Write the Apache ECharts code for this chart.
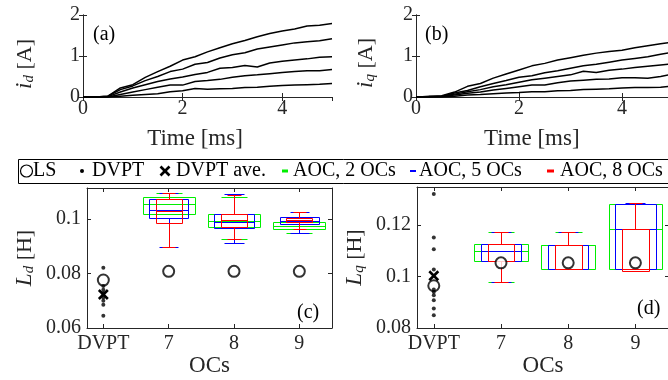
<!DOCTYPE html>
<html><head><meta charset="utf-8">
<script src="https://cdn.jsdelivr.net/npm/echarts@6/dist/echarts.min.js"></script>
<style>html,body{margin:0;padding:0;background:#fff}#c{width:668px;height:380px}</style>
</head><body><div id="c"></div>
<script>
// ---------- DATA ----------
const time = [0,0.25,0.5,0.75,1,1.25,1.5,1.75,2,2.25,2.5,2.75,3,3.25,3.5,3.75,4,4.25,4.5,4.75,5];
const id1 = [0,0,0.02,0.22,0.3,0.48,0.62,0.75,0.9,0.98,1.1,1.2,1.3,1.38,1.47,1.55,1.61,1.66,1.73,1.75,1.79];
const id2 = [0,0,0.02,0.18,0.27,0.4,0.5,0.62,0.68,0.8,0.84,0.95,1.03,1.08,1.17,1.22,1.27,1.32,1.35,1.37,1.42];
const id3 = [0,0,0.01,0.12,0.22,0.3,0.38,0.44,0.49,0.55,0.6,0.7,0.72,0.77,0.73,0.83,0.87,0.9,0.93,0.97,0.98];
const id4 = [0,0,0,0.06,0.12,0.18,0.24,0.29,0.29,0.38,0.4,0.43,0.48,0.52,0.54,0.57,0.6,0.62,0.64,0.64,0.67];
const id5 = [0,0,0,0.02,0.04,0.06,0.08,0.13,0.15,0.21,0.19,0.2,0.21,0.23,0.24,0.26,0.28,0.29,0.3,0.31,0.33];
const iq1 = [0,0.01,0.03,0.12,0.26,0.33,0.46,0.56,0.66,0.76,0.82,0.9,0.96,1.02,1.07,1.11,1.14,1.2,1.25,1.3,1.34];
const iq2 = [0,0.01,0.02,0.1,0.16,0.25,0.33,0.4,0.48,0.52,0.59,0.64,0.7,0.76,0.8,0.85,0.9,0.94,0.98,1.04,1.1];
const iq3 = [0,0.01,0.02,0.07,0.13,0.18,0.25,0.3,0.36,0.42,0.46,0.5,0.54,0.63,0.6,0.65,0.68,0.72,0.75,0.78,0.81];
const iq4 = [0,0,0.01,0.05,0.09,0.12,0.17,0.21,0.25,0.29,0.29,0.35,0.39,0.41,0.43,0.44,0.47,0.47,0.46,0.5,0.56];
const iq5 = [0,0,0,0.02,0.05,0.06,0.08,0.1,0.11,0.13,0.13,0.15,0.16,0.18,0.19,0.2,0.22,0.23,0.23,0.24,0.27];

const ocCategories = ['DVPT','7','8','9'];
const ocPositions = [1,2,3,4];
// boxes per OC (7, 8, 9): [lower whisker, q1, median, q3, upper whisker]
const ldAoc2 = [[0.1018,0.1018,0.1056,0.1079,0.1097],[0.0927,0.0970,0.0993,0.1018,0.1080],[0.0950,0.0963,0.0976,0.0990,0.0990]];
const ldAoc5 = [[0.0898,0.1003,0.1032,0.1074,0.1097],[0.0913,0.0966,0.0988,0.1017,0.1092],[0.0950,0.0982,0.0993,0.1006,0.1025]];
const ldAoc8 = [[0.0898,0.0984,0.1030,0.1074,0.1097],[0.0927,0.0970,0.0996,0.1017,0.1088],[0.0963,0.0990,0.0996,0.1003,0.1025]];
const lqAoc2 = [[0.0979,0.1059,0.1098,0.1128,0.1172],[0.1031,0.1031,0.1124,0.1124,0.1173],[0.1028,0.1028,0.1183,0.1283,0.1283]];
const lqAoc5 = [[0.0979,0.1059,0.1098,0.1128,0.1172],[0.1031,0.1031,0.1124,0.1124,0.1173],[0.1028,0.1028,0.1183,0.1281,0.1286]];
const lqAoc8 = [[0.0979,0.1059,0.1128,0.1128,0.1172],[0.1031,0.1031,0.1124,0.1124,0.1173],[0.1021,0.1021,0.1028,0.1183,0.1286]];
const ldLS = [0.0776,0.0808,0.0808,0.0808];
const lqLS = [0.0964,0.1053,0.1053,0.1053];
const ldDVPT = [0.0821,0.0754,0.0740,0.0728,0.0712,0.0700,0.0685,0.0645];
const lqDVPT = [0.1320,0.1151,0.1106,0.1027,0.0950,0.0940,0.0927,0.0908,0.0876,0.0850];
const ldDVPTave = 0.0723;
const lqDVPTave = 0.1003;
const legendLabels = ['LS','DVPT','DVPT ave.','AOC, 2 OCs','AOC, 5 OCs','AOC, 8 OCs'];
const panelLabels = ['(a)','(b)','(c)','(d)'];

// ---------- STYLE ----------
const FONT = '"Liberation Serif","Times New Roman",serif';
const AX = '#262626';
const GREEN = '#00ee00', BLUE = '#0000ff', RED = '#ff0000';

const grids = [
  {left:83, top:15, width:249, height:82},
  {left:416, top:15, width:257.5, height:82},
  {left:87, top:188, width:245, height:140},
  {left:417, top:187, width:252, height:141}
].map(g => Object.assign({containLabel:false, outerBoundsMode:'none'}, g));

const tickStyle = {inside:true, length:4, lineStyle:{color:AX, width:1}};
const lineStyleAx = {show:true, lineStyle:{color:AX, width:1}};
const lblStyle = {color:AX, fontFamily:FONT, fontSize:20};

function timeX(gi, nameShift) {
  return {type:'value', gridIndex:gi, min:0, max:5, interval:2,
    axisLine:lineStyleAx, axisTick:tickStyle, splitLine:{show:false},
    axisLabel:Object.assign({margin:2, showMaxLabel:false}, lblStyle),
    name:'Time [ms]', nameLocation:'middle', nameGap:30,
    nameTextStyle:{color:AX, fontFamily:FONT, fontSize:23, padding:[0,nameShift,0,0]}};
}
function ocX(gi) {
  return {type:'value', gridIndex:gi, min:0.75, max:4.5,
    axisLine:lineStyleAx, splitLine:{show:false},
    axisTick:Object.assign({customValues:ocPositions}, tickStyle),
    axisLabel:Object.assign({margin:6, customValues:ocPositions,
      formatter: v => ocCategories[Math.round(v)-1] || ''}, lblStyle),
    name:'OCs', nameLocation:'middle', nameGap:24,
    nameTextStyle:{color:AX, fontFamily:FONT, fontSize:23}};
}
function topX(gi, custom) {
  const a = {type:'value', gridIndex:gi, position:'top', axisLine:lineStyleAx,
    axisTick:Object.assign({}, tickStyle), axisLabel:{show:false}, splitLine:{show:false}};
  if (custom) { a.min = 0.75; a.max = 4.5; a.axisTick.customValues = ocPositions; a.axisLabel.customValues = ocPositions; }
  else { a.min = 0; a.max = 5; a.interval = 2; }
  return a;
}
function leftY(gi, min, max, interval, sym, sub, unit, gap, shift, margin) {
  return {type:'value', gridIndex:gi, min, max, interval,
    axisLine:lineStyleAx, axisTick:tickStyle, splitLine:{show:false},
    axisLabel:Object.assign({margin:margin, showMaxLabel: max % interval === 0}, lblStyle),
    name:'{m|' + sym + '}{s|' + sub + '} ' + unit,
    nameLocation:'middle', nameGap:gap, nameRotate:90,
    nameTextStyle:{color:AX, fontFamily:FONT, fontSize:22, padding:[0,shift,0,0],
      rich:{m:{fontStyle:'italic', fontFamily:FONT, fontSize:23, color:AX},
            s:{fontStyle:'italic', fontFamily:FONT, fontSize:15, color:AX, padding:[9,0,0,0]}}}};
}
function rightY(gi, min, max, interval) {
  return {type:'value', gridIndex:gi, position:'right', min, max, interval,
    axisLine:lineStyleAx, axisTick:tickStyle, axisLabel:{show:false}, splitLine:{show:false}};
}

const ldMax = 0.06 + 140/2725;
const lqMax = 0.08 + 141/2575;

const xAxis = [timeX(0,25), timeX(1,26), ocX(2), ocX(3), topX(0,false), topX(1,false), topX(2,true), topX(3,true)];
const yAxis = [
  leftY(0, 0, 2, 1, 'i', 'd', '[A]', 46, 16, 3),
  leftY(1, 0, 2, 1, 'i', 'q', '[A]', 38, 14, 3),
  leftY(2, 0.06, ldMax, 0.02, 'L', 'd', '[H]', 50, 0, 6),
  leftY(3, 0.08, lqMax, 0.02, 'L', 'q', '[H]', 50, 0, 6),
  rightY(0,0,2,1), rightY(1,0,2,1), rightY(2,0.06,ldMax,0.02), rightY(3,0.08,lqMax,0.02)
];

const series = [];
[id1,id2,id3,id4,id5].forEach(c => series.push({type:'line', xAxisIndex:0, yAxisIndex:0, showSymbol:false, symbol:'none',
  data: time.map((t,i)=>[t,c[i]]), lineStyle:{color:'#000', width:1.5}, silent:true}));
[iq1,iq2,iq3,iq4,iq5].forEach(c => series.push({type:'line', xAxisIndex:1, yAxisIndex:1, showSymbol:false, symbol:'none',
  data: time.map((t,i)=>[t,c[i]]), lineStyle:{color:'#000', width:1.5}, silent:true}));

function boxRender(frac, color) {
  return function(params, api) {
    const x = api.value(0);
    const lo = api.value(1), q1 = api.value(2), med = api.value(3), q3 = api.value(4), hi = api.value(5);
    const unit = api.size([1,0])[0];
    const bw = unit*frac, cw = bw/2;
    const cx = api.coord([x, q1])[0];
    const Y = v => Math.round(api.coord([x, v])[1]) + 0.5;
    const X = v => Math.round(v) + 0.5;
    const st = () => ({stroke:color, lineWidth:1, fill:null});
    const ch = [];
    const l = X(cx-bw/2), r = X(cx+bw/2);
    ch.push({type:'rect', shape:{x:l, y:Y(q3), width:r-l, height:Y(q1)-Y(q3)}, style:st()});
    ch.push({type:'line', shape:{x1:l, y1:Y(med), x2:r, y2:Y(med)}, style:st()});
    const xc = X(cx);
    if (hi > q3) {
      ch.push({type:'line', shape:{x1:xc, y1:Y(q3), x2:xc, y2:Y(hi)}, style:st()});
      ch.push({type:'line', shape:{x1:X(cx-cw/2), y1:Y(hi), x2:X(cx+cw/2), y2:Y(hi)}, style:st()});
    }
    if (lo < q1) {
      ch.push({type:'line', shape:{x1:xc, y1:Y(q1), x2:xc, y2:Y(lo)}, style:st()});
      ch.push({type:'line', shape:{x1:X(cx-cw/2), y1:Y(lo), x2:X(cx+cw/2), y2:Y(lo)}, style:st()});
    }
    return {type:'group', children:ch};
  };
}
function boxSeries(gi, arr, frac, color) {
  return {type:'custom', xAxisIndex:gi, yAxisIndex:gi, renderItem:boxRender(frac,color),
    encode:{x:0, y:[1,2,3,4,5]}, data: arr.map((b,i)=>[ocPositions[i+1]].concat(b)), silent:true, z:3};
}
function crossRender(params, api) {
  const p = api.coord([api.value(0), api.value(1)]);
  const s = 4.5;
  return {type:'group', children:[
    {type:'line', shape:{x1:p[0]-s, y1:p[1]-s, x2:p[0]+s, y2:p[1]+s}, style:{stroke:'#000', lineWidth:2.6}},
    {type:'line', shape:{x1:p[0]-s, y1:p[1]+s, x2:p[0]+s, y2:p[1]-s}, style:{stroke:'#000', lineWidth:2.6}}]};
}
[[2, ldAoc2, ldAoc5, ldAoc8, ldLS, ldDVPT, ldDVPTave],[3, lqAoc2, lqAoc5, lqAoc8, lqLS, lqDVPT, lqDVPTave]].forEach(([gi,a2,a5,a8,ls,dv,ave]) => {
  series.push(boxSeries(gi, a2, 0.8, GREEN));
  series.push(boxSeries(gi, a5, 0.6, BLUE));
  series.push(boxSeries(gi, a8, 0.4, RED));
  series.push({type:'scatter', xAxisIndex:gi, yAxisIndex:gi, symbol:'emptyCircle', symbolSize:11,
    itemStyle:{color:'#000', borderWidth:1.2, borderColor:'#000'}, data: ls.map((v,i)=>[ocPositions[i], v]), z:5, silent:true});
  series.push({type:'scatter', xAxisIndex:gi, yAxisIndex:gi, symbol:'circle', symbolSize:4,
    itemStyle:{color:'#000'}, data: dv.map(v=>[ocPositions[0], v]), z:5, silent:true});
  series.push({type:'custom', xAxisIndex:gi, yAxisIndex:gi, renderItem:crossRender, encode:{x:0,y:1},
    data:[[ocPositions[0], ave]], z:6, silent:true});
});

// ---------- LEGEND & PANEL LABELS ----------
const legY = 171;
const txt = (x, y, t) => ({type:'text', x:x, y:y, z:20,
  style:{text:t, fill:'#000', font:'20px ' + FONT, verticalAlign:'middle', align:'left'}});
const graphic = [
  {type:'rect', z:10, shape:{x:18.5, y:159.5, width:660, height:24}, style:{fill:'#fff', stroke:'#000', lineWidth:1}},
  {type:'circle', z:20, shape:{cx:26.5, cy:legY, r:6}, style:{fill:'none', stroke:'#000', lineWidth:1.2}},
  txt(33, legY, legendLabels[0]),
  {type:'circle', z:20, shape:{cx:82, cy:legY, r:2}, style:{fill:'#000'}},
  txt(92, legY, legendLabels[1]),
  {type:'line', z:20, shape:{x1:160.5, y1:legY-4.5, x2:169.5, y2:legY+4.5}, style:{stroke:'#000', lineWidth:2.6}},
  {type:'line', z:20, shape:{x1:160.5, y1:legY+4.5, x2:169.5, y2:legY-4.5}, style:{stroke:'#000', lineWidth:2.6}},
  txt(176, legY, legendLabels[2]),
  {type:'rect', z:20, shape:{x:282, y:legY-1.5, width:6, height:3}, style:{fill:GREEN}},
  txt(293, legY, legendLabels[3]),
  {type:'rect', z:20, shape:{x:410, y:legY-1, width:6, height:2}, style:{fill:BLUE}},
  txt(419, legY, legendLabels[4]),
  {type:'rect', z:20, shape:{x:547, y:legY-1.5, width:7, height:3}, style:{fill:RED}},
  txt(560, legY, legendLabels[5]),
  txt(93, 35, panelLabels[0]),
  txt(425, 35, panelLabels[1]),
  txt(297, 313, panelLabels[2]),
  txt(637, 309, panelLabels[3])
];

const chart = echarts.init(document.getElementById('c'), null, {renderer:'canvas'});
chart.setOption({backgroundColor:'#fff', animation:false, grid:grids, xAxis, yAxis, series, graphic,
  textStyle:{fontFamily:FONT}});
</script></body></html>
